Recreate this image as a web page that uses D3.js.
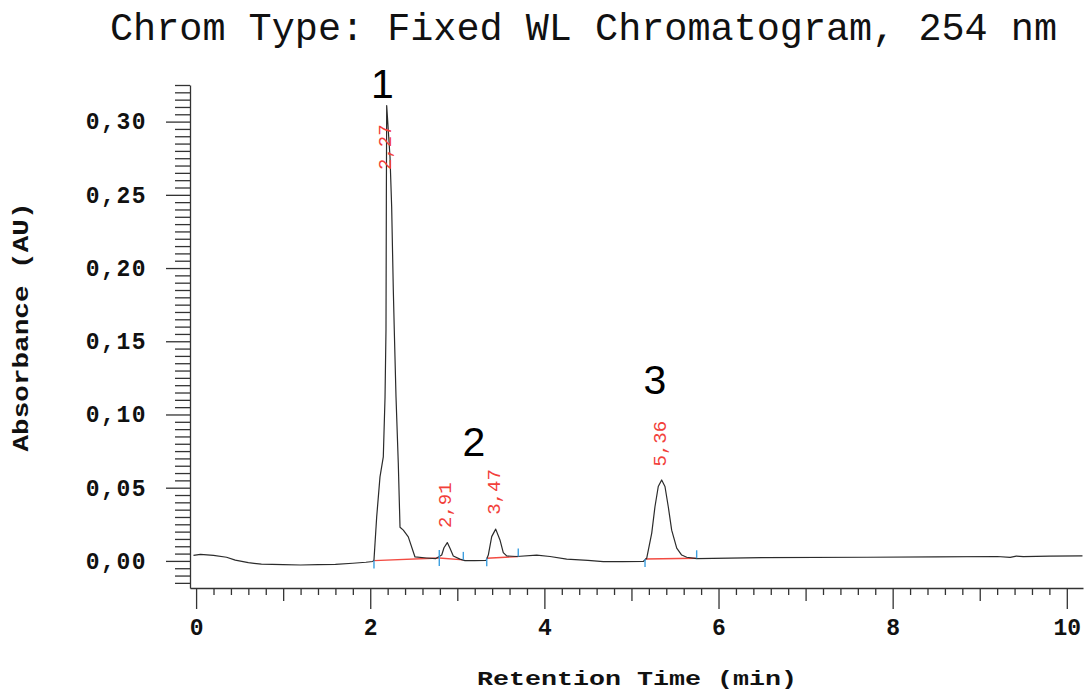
<!DOCTYPE html>
<html>
<head>
<meta charset="utf-8">
<script src="https://cdn.jsdelivr.net/npm/d3@7"></script>
<style>
  body { margin: 0; background: #fff; }
  svg { display: block; }
  .mono { font-family: "Courier New", "Liberation Mono", monospace; }
</style>
</head>
<body>
<div id="chart"></div>
<script>
(function() {

  var width = 1089;
  var height = 691;

  // trace (time in min, absorbance in AU)
  var traceTime = [-0.03, 0.05, 0.2, 0.35, 0.45, 0.6, 0.75, 1.0, 1.2, 1.4, 1.6, 1.8, 1.95, 2.03,
    2.043, 2.074, 2.112, 2.15, 2.17, 2.181, 2.185, 2.189, 2.227, 2.246, 2.265, 2.276, 2.296, 2.322,
    2.342, 2.38, 2.437, 2.514, 2.648, 2.75,
    2.821, 2.847, 2.885, 2.916, 2.954, 3.03, 3.088, 3.2, 3.33,
    3.356, 3.395, 3.441, 3.49, 3.528, 3.567, 3.682, 3.912, 4.065, 4.256, 4.5, 4.677, 4.9, 5.136,
    5.175, 5.233, 5.27, 5.308, 5.347, 5.385, 5.423, 5.462, 5.52, 5.577, 5.635, 5.749,
    6.5, 7.7, 8.5, 9.2, 9.35, 9.42, 9.5, 9.8, 10.18];
  var traceAU = [0.0038, 0.0045, 0.0038, 0.0025, 0.0005, -0.0012, -0.0022, -0.0025, -0.0028, -0.0026, -0.0023, -0.0016, -0.0009, -0.0004,
    0.0007, 0.030, 0.0574, 0.071, 0.112, 0.158, 0.246, 0.311, 0.276, 0.242, 0.185, 0.158, 0.112, 0.067,
    0.023, 0.021, 0.0164, 0.0027, 0.002, 0.0015,
    0.004, 0.009, 0.0125, 0.0087, 0.0034, 0.0012, 0.0002, 0.0002, 0.0003,
    0.004, 0.0166, 0.0217, 0.0143, 0.0057, 0.0034, 0.003, 0.004, 0.003, 0.0012, 0.0003, -0.0005, -0.0005, -0.0004,
    0.0018, 0.019, 0.037, 0.0508, 0.0553, 0.0508, 0.037, 0.021, 0.0087, 0.004, 0.0025, 0.0016,
    0.0022, 0.0025, 0.0028, 0.003, 0.0024, 0.0033, 0.0029, 0.0032, 0.0034];

  // integrated peaks: apex time, label, baseline start/end
  var peakTime = [2.189, 2.885, 3.441, 5.347];
  var peakLabel = ["2,27", "2,91", "3,47", "5,36"];
  var peakLabelAU = [0.267, 0.0225, 0.0315, 0.0645];
  var baseStartTime = [2.043, 2.793, 3.338, 5.156];
  var baseStartAU = [0.0002, 0.002, 0.0018, 0.0013];
  var baseEndTime = [2.793, 3.069, 3.70, 5.749];
  var baseEndAU = [0.002, 0.0007, 0.003, 0.0018];

  // compound numbers written on the plot
  var compoundLabel = ["1", "2", "3"];
  var compoundTime = [2.14, 3.19, 5.27];
  var compoundAU = [0.316, 0.0717, 0.114];

  var xMajor = [0, 2, 4, 6, 8, 10];
  var yMajor = [0, 0.05, 0.10, 0.15, 0.20, 0.25, 0.30];

  var svg = d3.select("#chart")
    .append("svg")
    .attr("width", width)
    .attr("height", height);

  var x = d3.scaleLinear().domain([-0.07, 10.186]).range([190, 1083]);
  var y = d3.scaleLinear().domain([-0.0185, 0.325]).range([588, 85]);

  var comma = function(d) { return d3.format(".2f")(d).replace(".", ","); };

  // minor ticks first, so the majors sit on top
  var xMinor = d3.range(0, 51).map(function(i) { return i * 0.2; })
    .filter(function(d) { return Math.abs(d - Math.round(d)) > 0.01; });
  var xMid = [1, 3, 5, 7, 9];
  var yMinor = d3.range(-3, 66).map(function(i) { return i * 0.005; })
    .filter(function(d) { return Math.abs(d / 0.05 - Math.round(d / 0.05)) > 0.01; });

  function minorAxis(axis, cls) {
    svg.append("g")
      .attr("class", cls)
      .call(axis)
      .call(function(g) { g.select(".domain").remove(); });
  }

  minorAxis(d3.axisBottom(x).tickValues(xMinor).tickSize(7).tickFormat(""), "xminor");
  minorAxis(d3.axisBottom(x).tickValues(xMid).tickSize(13).tickFormat(""), "xmid");
  minorAxis(d3.axisLeft(y).tickValues(yMinor).tickSize(15).tickFormat(""), "yminor");
  svg.select(".xminor").attr("transform", "translate(0,588)");
  svg.select(".xmid").attr("transform", "translate(0,588)");
  svg.select(".yminor").attr("transform", "translate(190,0)");

  var gx = svg.append("g")
    .attr("transform", "translate(0,588)")
    .call(d3.axisBottom(x).tickValues(xMajor).tickSize(21).tickSizeOuter(0).tickPadding(10)
      .tickFormat(d3.format("d")));

  var gy = svg.append("g")
    .attr("transform", "translate(190,0)")
    .call(d3.axisLeft(y).tickValues(yMajor).tickSize(24).tickSizeOuter(0).tickPadding(19)
      .tickFormat(comma));

  svg.selectAll(".tick line, .domain")
    .attr("stroke", "#333")
    .attr("stroke-width", 1.3);

  svg.selectAll(".tick text")
    .attr("class", "mono")
    .attr("font-size", 23)
    .attr("font-weight", "bold")
    .attr("fill", "#111");
  gy.selectAll(".tick text").attr("letter-spacing", 1.5);

  // red integration baselines
  svg.selectAll(".base")
    .data(peakTime)
    .enter().append("line")
    .attr("class", "base")
    .attr("x1", function(d, i) { return x(baseStartTime[i]); })
    .attr("y1", function(d, i) { return y(baseStartAU[i]); })
    .attr("x2", function(d, i) { return x(baseEndTime[i]); })
    .attr("y2", function(d, i) { return y(baseEndAU[i]); })
    .attr("stroke", "#f24b42")
    .attr("stroke-width", 1.4);

  // the trace
  var line = d3.line()
    .x(function(d) { return x(d[0]); })
    .y(function(d) { return y(d[1]); });

  svg.append("path")
    .datum(d3.zip(traceTime, traceAU))
    .attr("d", line)
    .attr("fill", "none")
    .attr("stroke", "#2b2b2b")
    .attr("stroke-width", 1.2)
    .attr("stroke-linejoin", "round");

  // blue start (below) and end (above) marks
  svg.selectAll(".mark-start")
    .data(baseStartTime)
    .enter().append("line")
    .attr("x1", function(d) { return x(d); })
    .attr("x2", function(d) { return x(d); })
    .attr("y1", function(d, i) { return y(baseStartAU[i]); })
    .attr("y2", function(d, i) { return y(baseStartAU[i]) + 8; })
    .attr("stroke", "#3d9fe0")
    .attr("stroke-width", 1.4);

  svg.selectAll(".mark-end")
    .data(baseEndTime)
    .enter().append("line")
    .attr("x1", function(d) { return x(d); })
    .attr("x2", function(d) { return x(d); })
    .attr("y1", function(d, i) { return y(baseEndAU[i]); })
    .attr("y2", function(d, i) { return y(baseEndAU[i]) - 8; })
    .attr("stroke", "#3d9fe0")
    .attr("stroke-width", 1.4);

  // retention time labels, read upwards
  svg.selectAll(".rt")
    .data(peakLabel)
    .enter().append("text")
    .attr("class", "mono")
    .attr("transform", function(d, i) {
      return "translate(" + (x(peakTime[i]) - 1) + "," + y(peakLabelAU[i]) + ") rotate(-90)";
    })
    .attr("dominant-baseline", "central")
    .attr("font-size", 19)
    .attr("fill", "#f2403a")
    .text(function(d) { return d; });

  svg.selectAll(".compound")
    .data(compoundLabel)
    .enter().append("text")
    .attr("x", function(d, i) { return x(compoundTime[i]); })
    .attr("y", function(d, i) { return y(compoundAU[i]); })
    .attr("text-anchor", "middle")
    .attr("font-family", "Arial, 'Liberation Sans', sans-serif")
    .attr("font-size", 41)
    .attr("fill", "#000")
    .text(function(d) { return d; });

  // title and axis titles
  svg.append("text")
    .attr("class", "mono")
    .attr("x", 110)
    .attr("y", 40)
    .attr("font-size", 38)
    .attr("textLength", 947)
    .attr("lengthAdjust", "spacingAndGlyphs")
    .attr("fill", "#111")
    .text("Chrom Type: Fixed WL Chromatogram, 254 nm");

  svg.append("text")
    .attr("class", "mono")
    .attr("transform", "translate(22,327) rotate(-90)")
    .attr("text-anchor", "middle")
    .attr("dominant-baseline", "central")
    .attr("font-size", 22)
    .attr("font-weight", "bold")
    .attr("textLength", 249)
    .attr("lengthAdjust", "spacingAndGlyphs")
    .attr("fill", "#111")
    .text("Absorbance (AU)");

  svg.append("text")
    .attr("class", "mono")
    .attr("x", 477)
    .attr("y", 685)
    .attr("font-size", 21)
    .attr("font-weight", "bold")
    .attr("textLength", 320)
    .attr("lengthAdjust", "spacingAndGlyphs")
    .attr("fill", "#111")
    .text("Retention Time (min)");

})();
</script>
</body>
</html>
